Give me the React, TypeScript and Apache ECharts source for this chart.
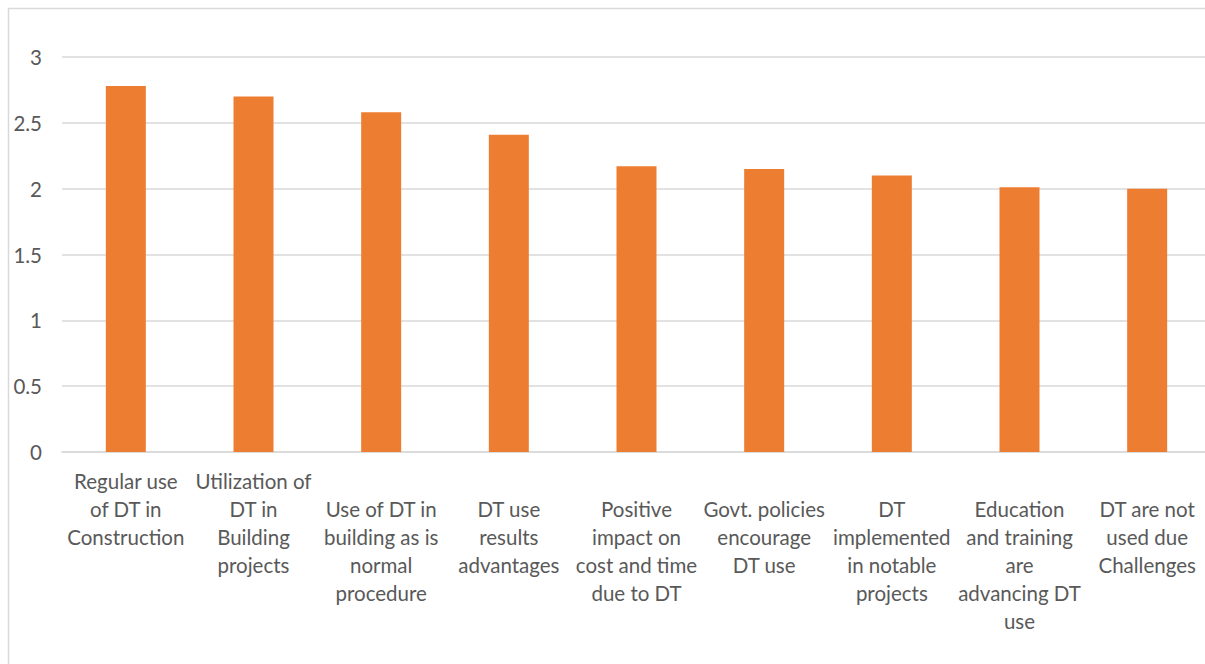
import React, { useEffect, useRef } from "react";
import * as echarts from "echarts";

const categories: string[] = [
  "Regular use\nof DT in\nConstruction",
  "Utilization of\nDT in\nBuilding\nprojects",
  "Use of DT in\nbuilding as is\nnormal\nprocedure",
  "DT use\nresults\nadvantages",
  "Positive\nimpact on\ncost and time\ndue to DT",
  "Govt. policies\nencourage\nDT use",
  "DT\nimplemented\nin notable\nprojects",
  "Education\nand training\nare\nadvancing DT\nuse",
  "DT are not\nused due\nChallenges",
];

const values: number[] = [2.78, 2.7, 2.58, 2.41, 2.17, 2.15, 2.1, 2.01, 2.0];

const yTicks = { min: 0, max: 3, interval: 0.5 };

export default function App() {
  const ref = useRef<HTMLDivElement>(null);
  useEffect(() => {
    if (!ref.current) return;
    const chart = echarts.init(ref.current, undefined, { renderer: "svg" });
    const font = "Lato, 'Open Sans', sans-serif";
    chart.setOption({
      animation: false,
      backgroundColor: "#ffffff",
      graphic: [
        {
          type: "rect",
          shape: { x: 8.5, y: 8.5, width: 1400, height: 800 },
          style: { fill: "none", stroke: "#d9d9d9", lineWidth: 1.5 },
          silent: true,
        },
      ],
      grid: { left: 62, right: 4, top: 57, bottom: 212, containLabel: false },
      xAxis: {
        type: "category",
        data: categories.map((c, i) => ({
          value: c,
          textStyle: { padding: i < 2 ? [0, 0, 0, 0] : [28, 0, 0, 0] },
        })),
        axisLine: { show: true, lineStyle: { color: "#d9d9d9", width: 1.5 } },
        axisTick: { show: false },
        axisLabel: {
          interval: 0,
          color: "#595959",
          fontFamily: font,
          fontSize: 20.5,
          lineHeight: 28,
          margin: 15,
          align: "center",
          verticalAlign: "top",
        },
      },
      yAxis: {
        type: "value",
        min: yTicks.min,
        max: yTicks.max,
        interval: yTicks.interval,
        axisLine: { show: false },
        axisTick: { show: false },
        splitLine: { lineStyle: { color: "#d9d9d9", width: 1.5 } },
        axisLabel: {
          color: "#595959",
          fontFamily: font,
          fontSize: 20.5,
          margin: 20,
          formatter: (v: number) => String(v),
        },
      },
      series: [
        {
          type: "bar",
          data: values,
          barWidth: 40,
          itemStyle: { color: "#ED7D31" },
        },
      ],
    });
    return () => chart.dispose();
  }, []);
  return (
    <div
      ref={ref}
      style={{ position: "fixed", left: 0, top: 0, width: 1215, height: 664 }}
    />
  );
}
